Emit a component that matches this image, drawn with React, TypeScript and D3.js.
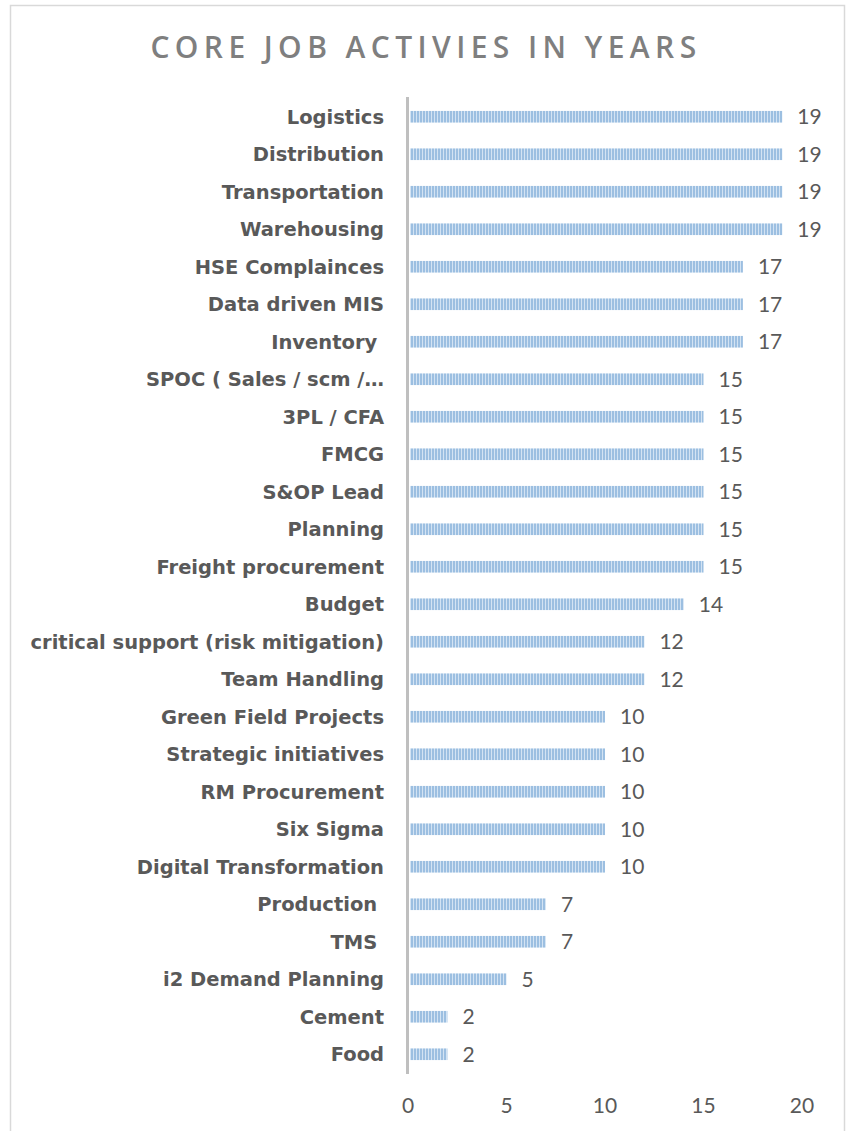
import React from "react";
import * as d3 from "d3";

const categories = [
  "Logistics", "Distribution", "Transportation", "Warehousing", "HSE Complainces",
  "Data driven MIS", "Inventory ", "SPOC ( Sales / scm /…", "3PL / CFA", "FMCG",
  "S&OP Lead", "Planning", "Freight procurement", "Budget",
  "critical support (risk mitigation)", "Team Handling", "Green Field Projects",
  "Strategic initiatives", "RM Procurement", "Six Sigma", "Digital Transformation",
  "Production ", "TMS ", "i2 Demand Planning", "Cement", "Food",
];
const values = [19, 19, 19, 19, 17, 17, 17, 15, 15, 15, 15, 15, 15, 14, 12, 12, 10, 10, 10, 10, 10, 7, 7, 5, 2, 2];
const ticks = [0, 5, 10, 15, 20];
const title = "CORE JOB ACTIVIES IN YEARS";

export default function App() {
  const W = 852, H = 1131;
  const x = d3.scaleLinear().domain([0, 20]).range([408, 802]);
  const y = d3.scaleBand<string>().domain(categories).range([98, 1073]).paddingInner(0.69).paddingOuter(0.345);
  const bh = y.bandwidth();
  return (
    <svg width={W} height={H} style={{ position: "fixed", left: 0, top: 0, background: "#fff" }}>
      <defs>
        <pattern id="stripes" patternUnits="userSpaceOnUse" width={3} height={10}>
          <rect x={0} y={0} width={3} height={10} fill="#9cbfe1" />
          <rect x={2} y={0} width={1} height={10} fill="#d3e3f3" />
        </pattern>
      </defs>
      <rect x={10.5} y={5.5} width={834} height={1140} fill="#fff" stroke="#d9d9d9" strokeWidth={1.5} />
      <text x={426} y={58} textAnchor="middle" fontFamily="'Open Sans', sans-serif" fontWeight={600} fontSize={30} letterSpacing={5.4} fill="#7f7f7f">{title}</text>
      {categories.map((c, i) => {
        const yc = (y(c) as number) + bh / 2;
        return (
          <g key={c}>
            <rect x={x(0) + 2} y={y(c)} width={x(values[i]) - x(0) - 2} height={bh} fill="url(#stripes)" />
            <text x={384} y={yc} dy="0.36em" textAnchor="end" fontFamily="'DejaVu Sans', sans-serif" fontWeight={700} fontSize={19.5} fill="#595959" style={{ whiteSpace: "pre" }}>{c}</text>
            <text x={x(values[i]) + 15} y={yc} dy="0.35em" fontFamily="'Lato', sans-serif" fontSize={21} fill="#595959">{values[i]}</text>
          </g>
        );
      })}
      <line x1={407.5} x2={407.5} y1={97} y2={1074} stroke="#bfbfbf" strokeWidth={3} />
      {ticks.map((t) => (
        <text key={t} x={x(t)} y={1106} dy="0.35em" textAnchor="middle" fontFamily="'Lato', sans-serif" fontSize={21} fill="#595959">{t}</text>
      ))}
    </svg>
  );
}
